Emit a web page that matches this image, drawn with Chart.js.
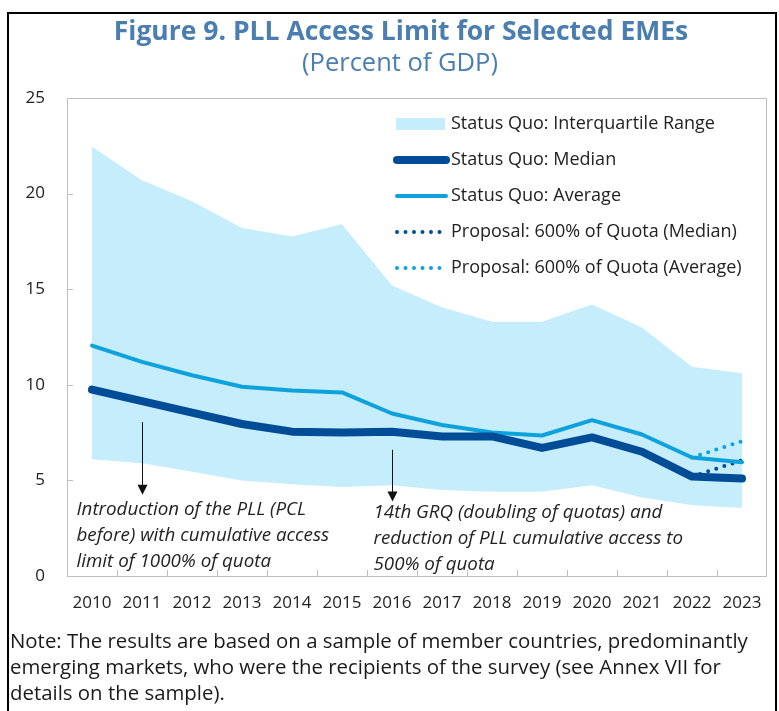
<!DOCTYPE html>
<html>
<head>
<meta charset="utf-8">
<script src="https://cdn.jsdelivr.net/npm/chart.js@4.4.1/dist/chart.umd.min.js"></script>
<style>
  body { margin: 0; background: #fff; }
  #wrap { position: relative; width: 779px; height: 711px; overflow: hidden; }
  #frame { position: absolute; left: 7px; top: 12px; width: 766px; height: 740px; border: 2px solid #000; pointer-events: none; }
  #note { position: absolute; left: 10px; top: 627px; font: 20.4px "Open Sans", sans-serif; line-height: 26px; color: #1a1a1a; white-space: nowrap; }
</style>
</head>
<body>
<div id="wrap">
  <canvas id="chart" width="779" height="711"></canvas>
  <div id="frame"></div>
  <div id="note">Note: The results are based on a sample of member countries, predominantly<br>emerging markets, who were the recipients of the survey (see Annex VII for<br>details on the sample).</div>
</div>
<script>
// chart data
const years = ["2010", "2011", "2012", "2013", "2014", "2015", "2016", "2017", "2018", "2019", "2020", "2021", "2022", "2023"];
const median = [9.75, 9.15, 8.55, 7.95, 7.55, 7.5, 7.55, 7.3, 7.3, 6.7, 7.25, 6.5, 5.2, 5.1];
const average = [12.05, 11.2, 10.5, 9.9, 9.7, 9.6, 8.5, 7.9, 7.5, 7.35, 8.15, 7.4, 6.2, 5.95];
const iqrHigh = [22.45, 20.7, 19.6, 18.2, 17.75, 18.4, 15.2, 14.05, 13.3, 13.3, 14.2, 13.0, 10.95, 10.6];
const iqrLow = [6.1, 5.9, 5.45, 5.0, 4.8, 4.65, 4.75, 4.5, 4.4, 4.4, 4.75, 4.1, 3.7, 3.55];
const proposalMedian = [null, null, null, null, null, null, null, null, null, null, null, null, 5.2, 6.05];
const proposalAverage = [null, null, null, null, null, null, null, null, null, null, null, null, 6.2, 7.05];

const yTicks = [0, 5, 10, 15, 20, 25];

const titleText = "Figure 9. PLL Access Limit for Selected EMEs";
const subtitleText = "(Percent of GDP)";

// arrows + italic notes inside the plot
const notes = [
  { year: "2011", from: 8.05, to: 4.25, dx: -66, textY: 3.45,
    lines: ["Introduction of the PLL (PCL", "before) with cumulative access", "limit of 1000% of quota"] },
  { year: "2016", from: 6.6, to: 3.9, dx: -19, textY: 3.3,
    lines: ["14th GRQ (doubling of quotas) and", "reduction of PLL cumulative access to", "500% of quota"] }
];

const DARK = "#004c97";
const LIGHT = "#0ea2dd";
const BAND = "#c6edfc";
const FONT = "'Open Sans', sans-serif";

// title, box, inside ticks, legend and notes
const decor = {
  id: "decor",
  beforeDraw(chart) {
    const ctx = chart.ctx;
    ctx.save();
    ctx.textAlign = "center";
    ctx.textBaseline = "middle";
    ctx.fillStyle = "#4a7eb0";
    ctx.font = "bold 26.5px " + FONT;
    ctx.fillText(titleText, 401, 32);
    ctx.font = "25.5px " + FONT;
    ctx.fillText(subtitleText, 400, 64);
    ctx.restore();
  },
  afterDatasetsDraw(chart) {
    const ctx = chart.ctx;
    const a = chart.chartArea;
    const xs = chart.scales.x;
    const ys = chart.scales.y;
    ctx.save();

    // plot box
    ctx.strokeStyle = "#bfbfbf";
    ctx.lineWidth = 1;
    ctx.strokeRect(Math.round(a.left) + 0.5, Math.round(a.top) + 0.5,
      Math.round(a.right - a.left) - 1, Math.round(a.bottom - a.top));

    // small ticks pointing inwards
    ctx.beginPath();
    yTicks.slice(1, -1).forEach(v => {
      const y = Math.round(ys.getPixelForValue(v)) + 0.5;
      ctx.moveTo(a.left, y);
      ctx.lineTo(a.left + 6, y);
    });
    for (let i = 1; i < years.length; i++) {
      const x = Math.round((xs.getPixelForValue(i - 1) + xs.getPixelForValue(i)) / 2) + 0.5;
      ctx.moveTo(x, a.bottom);
      ctx.lineTo(x, a.bottom - 6);
    }
    ctx.stroke();

    // legend
    const order = [4, 0, 1, 2, 3];
    const lx = a.left + 329;
    let ly = a.top + 26;
    ctx.font = "18px " + FONT;
    ctx.textAlign = "left";
    ctx.textBaseline = "middle";
    order.forEach(idx => {
      const ds = chart.data.datasets[idx];
      if (idx === 4) {
        ctx.fillStyle = BAND;
        ctx.fillRect(lx, ly - 6, 49, 12);
      } else {
        ctx.beginPath();
        ctx.strokeStyle = ds.borderColor;
        ctx.lineWidth = ds.borderWidth;
        ctx.lineCap = "round";
        ctx.setLineDash(ds.borderDash || []);
        ctx.moveTo(lx + 1, ly);
        ctx.lineTo(lx + 50, ly);
        ctx.stroke();
        ctx.setLineDash([]);
      }
      ctx.fillStyle = "#222";
      ctx.fillText(ds.label, lx + 55, ly);
      ly += 36;
    });

    // annotation arrows and text
    ctx.strokeStyle = "#111";
    ctx.fillStyle = "#111";
    ctx.lineWidth = 1;
    ctx.lineCap = "butt";
    notes.forEach(n => {
      const x = Math.round(xs.getPixelForValue(years.indexOf(n.year))) + 0.5;
      const y0 = ys.getPixelForValue(n.from);
      const y1 = ys.getPixelForValue(n.to);
      ctx.beginPath();
      ctx.moveTo(x, y0);
      ctx.lineTo(x, y1 - 9);
      ctx.stroke();
      ctx.beginPath();
      ctx.moveTo(x - 5, y1 - 10);
      ctx.lineTo(x + 5, y1 - 10);
      ctx.lineTo(x, y1);
      ctx.closePath();
      ctx.fill();
      ctx.font = "italic 18.8px " + FONT;
      ctx.fillStyle = "#222";
      let ty = ys.getPixelForValue(n.textY);
      n.lines.forEach(t => {
        ctx.fillText(t, x + n.dx, ty);
        ty += 26;
      });
      ctx.fillStyle = "#111";
    });
    ctx.restore();
  }
};

new Chart(document.getElementById("chart"), {
  type: "line",
  data: {
    labels: years,
    datasets: [
      { label: "Status Quo: Median", data: median, borderColor: DARK, borderWidth: 8,
        borderCapStyle: "round", borderJoinStyle: "round", pointRadius: 0, fill: false },
      { label: "Status Quo: Average", data: average, borderColor: LIGHT, borderWidth: 4,
        borderCapStyle: "round", borderJoinStyle: "round", pointRadius: 0, fill: false },
      { label: "Proposal: 600% of Quota (Median)", data: proposalMedian, borderColor: DARK, borderWidth: 4,
        borderDash: [0, 8.5], borderCapStyle: "round", pointRadius: 0, fill: false },
      { label: "Proposal: 600% of Quota (Average)", data: proposalAverage, borderColor: LIGHT, borderWidth: 4,
        borderDash: [0, 8.5], borderCapStyle: "round", pointRadius: 0, fill: false },
      { label: "Status Quo: Interquartile Range", data: iqrHigh, borderWidth: 0, borderColor: BAND,
        backgroundColor: BAND, pointRadius: 0, fill: "+1" },
      { label: "iqr low", data: iqrLow, borderWidth: 0, borderColor: BAND, pointRadius: 0, fill: false }
    ]
  },
  options: {
    responsive: false,
    animation: false,
    devicePixelRatio: 1,
    layout: { padding: { top: 98, right: 12, bottom: 95, left: 0 } },
    plugins: {
      legend: { display: false },
      tooltip: { enabled: false },
      title: { display: false }
    },
    elements: { line: { tension: 0 } },
    scales: {
      x: {
        offset: true,
        grid: { display: false, drawTicks: false },
        border: { display: false },
        ticks: { color: "#222", font: { family: FONT, size: 17 }, padding: 17, maxRotation: 0, autoSkip: false },
        afterFit: s => { s.height = 40; }
      },
      y: {
        min: 0,
        max: 25,
        grid: { display: false, drawTicks: false },
        border: { display: false },
        ticks: { stepSize: 5, color: "#222", font: { family: FONT, size: 17 }, padding: 22 },
        afterFit: s => { s.width = 67; }
      }
    }
  },
  plugins: [decor]
});
</script>
</body>
</html>
